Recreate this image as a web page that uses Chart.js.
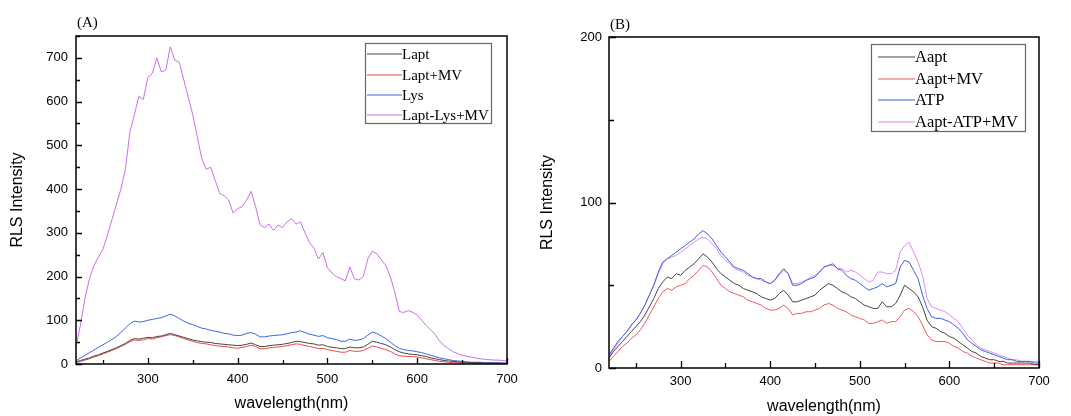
<!DOCTYPE html>
<html><head><meta charset="utf-8">
<script src="https://cdn.jsdelivr.net/npm/chart.js@4"></script>
<style>
html,body{margin:0;padding:0;background:#fff;}
#wrap{position:relative;width:1071px;height:416px;overflow:hidden;background:#fff;}
canvas{position:absolute;top:0;}
#cA{left:0;} #cB{left:535px;}
</style></head><body>
<div id="wrap"><canvas id="cA" width="535" height="416"></canvas><canvas id="cB" width="536" height="416"></canvas></div>
<script>
// ---- data ----
const wavelengths = [220,225,230,235,240,245,250,255,260,265,270,275,280,285,290,295,300,305,310,315,320,325,330,335,340,345,350,355,360,365,370,375,380,385,390,395,400,405,410,415,420,425,430,435,440,445,450,455,460,465,470,475,480,485,490,495,500,505,510,515,520,525,530,535,540,545,550,555,560,565,570,575,580,585,590,595,600,605,610,615,620,625,630,635,640,645,650,655,660,665,670,675,680,685,690,695,700];

// Panel A
const labelsA = ["Lapt","Lapt+MV","Lys","Lapt-Lys+MV"];
const laptA = [5,8,11,14,18,21,25,29,33,37,42,47,54,58,57,59,61,60,63,64,67,70,67,64,61,58,55,53,51,50,49,47,46,45,44,43,42,43,45,48,44,40,40,42,43,44,45,47,49,52,51,49,47,46,43,44,40,38,37,35,35,39,37,37,39,45,52,50,47,44,39,33,28,25,23,22,21,19,17,14,12,10,8,7,6,5,4,4,3,3,3,2,2,2,2,2,2];
const laptMVA = [3,6,9,12,16,19,23,27,31,35,40,45,51,55,54,55,58,57,60,62,65,67,65,62,58,55,52,49,47,46,44,42,41,40,39,37,36,38,40,43,40,35,35,37,38,39,40,42,44,46,45,42,40,38,35,36,33,31,29,27,27,31,29,29,31,36,41,39,36,33,29,23,19,18,17,17,16,14,12,10,8,6,5,4,3,3,2,2,2,1,1,1,1,1,1,1,1];
const lysA = [7,14,20,26,32,38,44,50,56,63,72,82,92,98,96,97,100,102,104,106,110,114,110,104,98,93,90,86,82,80,77,75,73,70,69,66,65,66,70,72,68,62,62,64,65,66,67,69,72,73,76,72,68,66,63,65,60,58,56,52,52,57,54,55,58,66,73,70,64,58,50,42,36,33,31,30,28,26,23,20,17,14,12,10,8,7,6,5,4,4,4,3,3,3,3,2,2];
const laptLysMVA = [40,90,150,195,225,245,262,295,330,365,400,445,530,570,612,605,655,665,700,668,672,725,695,690,650,610,570,520,470,445,450,420,390,385,375,345,355,360,375,395,360,318,312,320,305,318,312,325,332,320,325,300,278,265,240,255,220,208,200,195,190,222,195,192,200,240,258,252,238,225,200,165,120,118,122,118,112,100,88,78,68,52,42,35,28,24,20,18,16,14,12,11,10,9,9,8,7];

// Panel B
const labelsB = ["Aapt","Aapt+MV","ATP","Aapt-ATP+MV"];
const aaptB = [6,10,13,16,19,22,25,28,32,37,42,48,52,55,54,57,56,59,61,63,66,69,67,64,60,57,55,53,51,50,48,47,46,45,43,42,41,42,45,47,44,40,40,41,42,43,44,47,49,51,50,48,46,45,43,42,40,38,37,36,36,40,37,37,39,44,50,48,46,43,37,29,25,24,22,21,19,18,16,14,12,10,9,7,6,5,5,4,4,3,3,3,3,3,3,2,2];
const aaptMVB = [4,7,10,13,15,18,20,23,27,32,37,42,46,48,47,49,50,51,54,56,59,62,61,58,54,50,48,46,45,44,43,41,40,39,38,36,35,35,36,38,36,32,33,33,34,34,35,36,38,39,38,36,35,34,32,31,30,29,27,27,28,29,27,28,28,31,35,36,34,31,26,20,17,16,16,16,15,13,12,10,9,7,6,5,4,3,3,3,2,2,2,2,2,2,2,2,2];
const atpB = [8,12,16,19,22,26,29,33,38,44,50,58,64,66,68,70,72,74,76,78,81,83,81,78,74,70,67,64,61,60,59,57,55,54,54,52,51,53,57,60,57,50,50,51,53,54,55,58,61,62,63,60,59,56,54,53,51,49,47,48,49,51,49,50,51,61,65,64,59,54,44,36,31,30,30,29,28,26,24,21,17,15,13,11,10,9,8,7,6,5,5,4,4,4,4,3,3];
const aaptATPMVB = [7,11,15,19,22,26,29,33,38,44,50,57,63,66,67,68,70,72,74,76,78,79,78,75,72,68,65,63,60,59,58,56,55,54,53,52,51,53,56,59,57,51,51,52,53,55,56,58,61,62,62,60,60,58,59,58,56,54,52,53,58,58,57,57,59,70,74,76,70,64,56,42,37,36,35,34,32,30,28,24,20,17,14,12,11,10,9,8,7,6,5,5,4,4,4,4,4];

// ticks
const xTickValues = [300,400,500,600,700];
const xMinorValues = [250,350,450,550,650];
const yTickValuesA = [0,100,200,300,400,500,600,700];
const yMinorValuesA = [50,150,250,350,450,550,650,750];
const yTickValuesB = [0,100,200];
const yMinorValuesB = [50,150];

const colorsA = ["#444444","#e8474c","#3f63e6","#c96ee8"];
const colorsB = ["#444444","#ec5a60","#3f5fe0","#de8ae8"];

// ---- chart builder ----
const frameTicks = {
  id:'frameTicks',
  afterDraw(chart, args, o){
    const {ctx, chartArea:a, scales:{x, y}} = chart;
    ctx.save();
    ctx.strokeStyle = '#000';
    ctx.lineWidth = 1.5;
    ctx.strokeRect(a.left, a.top, a.right - a.left, a.bottom - a.top);
    ctx.lineWidth = 1.3;
    ctx.beginPath();
    o.xMajor.forEach(v => { const px = Math.round(x.getPixelForValue(v)) + 0.5; ctx.moveTo(px, a.bottom); ctx.lineTo(px, a.bottom - o.majLen); });
    o.xMinor.forEach(v => { const px = Math.round(x.getPixelForValue(v)) + 0.5; ctx.moveTo(px, a.bottom); ctx.lineTo(px, a.bottom - o.minLen); });
    o.yMajor.forEach(v => { const py = Math.round(y.getPixelForValue(v)) + 0.5; ctx.moveTo(a.left, py); ctx.lineTo(a.left + o.majLen, py); });
    o.yMinor.forEach(v => { const py = Math.round(y.getPixelForValue(v)) + 0.5; ctx.moveTo(a.left, py); ctx.lineTo(a.left + o.minLen, py); });
    ctx.stroke();
    // legend
    const L = o.legend;
    ctx.fillStyle = '#fff';
    ctx.fillRect(L.x, L.y, L.w, L.h);
    ctx.strokeStyle = '#666';
    ctx.lineWidth = 1.2;
    ctx.strokeRect(L.x + 0.5, L.y + 0.5, L.w, L.h);
    ctx.font = L.font;
    ctx.textBaseline = 'middle';
    ctx.textAlign = 'left';
    chart.data.datasets.forEach((ds, i) => {
      const ry = L.y + L.rows[i];
      ctx.strokeStyle = ds.borderColor;
      ctx.lineWidth = 1.2;
      ctx.beginPath(); ctx.moveTo(L.lx0, ry); ctx.lineTo(L.lx1, ry); ctx.stroke();
      ctx.fillStyle = '#000';
      ctx.fillText(ds.label, L.tx, ry + 1);
    });
    // panel label
    ctx.font = o.panel.font;
    ctx.fillStyle = '#000';
    ctx.fillText(o.panel.text, o.panel.x, o.panel.y);
    ctx.restore();
  }
};

function makeChart(id, labels, series, colors, c){
  const datasets = series.map((s, i) => ({
    label: labels[i],
    data: wavelengths.map((w, k) => ({x: w, y: s[k]})),
    borderColor: colors[i],
    borderWidth: 1,
    pointRadius: 0,
    tension: 0,
    fill: false
  }));
  return new Chart(document.getElementById(id), {
    type: 'line',
    data: {datasets},
    plugins: [frameTicks],
    options: {
      responsive: false, animation: false, devicePixelRatio: 1,
      layout: {padding: {top: c.top, right: c.right, left: 0, bottom: 0}},
      plugins: {legend: {display: false}, tooltip: {enabled: false}, frameTicks: c.deco},
      scales: {
        x: {
          type: 'linear', min: 220, max: 700,
          afterBuildTicks: s => { s.ticks = xTickValues.map(v => ({value: v})); },
          afterFit: s => { s.height = c.xH; },
          grid: {display: false, drawTicks: false}, border: {display: false},
          ticks: {font: {family: 'Liberation Sans', size: 13}, color: '#000', padding: c.xPad, maxRotation: 0, autoSkip: false},
          title: {display: true, text: 'wavelength(nm)', font: {family: 'Liberation Sans', size: 16}, color: '#000', padding: {top: 0, bottom: c.xTitlePad}}
        },
        y: {
          type: 'linear', min: 0, max: c.ymax,
          afterBuildTicks: s => { s.ticks = c.yTicks.map(v => ({value: v})); },
          afterFit: s => { s.width = c.yW; },
          grid: {display: false, drawTicks: false}, border: {display: false},
          ticks: {font: {family: 'Liberation Sans', size: 13}, color: '#000', padding: c.yPad, autoSkip: false},
          title: {display: true, text: 'RLS Intensity', font: {family: 'Liberation Sans', size: 16}, color: '#000', padding: {top: c.yTitlePad, bottom: 0}}
        }
      }
    }
  });
}

makeChart('cA', labelsA, [laptA, laptMVA, lysA, laptLysMVA], colorsA, {
  top: 36, right: 28, xH: 52, yW: 76, ymax: 750, yTicks: yTickValuesA,
  xPad: 8, yPad: 8, xTitlePad: 3, yTitlePad: 8,
  deco: {
    xMajor: xTickValues, xMinor: xMinorValues, yMajor: yTickValuesA, yMinor: yMinorValuesA, majLen: 6, minLen: 4,
    legend: {x: 365, y: 43, w: 126, h: 80, rows: [11, 32, 52, 72], lx0: 367, lx1: 402, tx: 402, font: '15px "Liberation Serif"'},
    panel: {text: '(A)', x: 77, y: 23, font: '15px "Liberation Serif"'}
  }
});

makeChart('cB', labelsB, [aaptB, aaptMVB, atpB, aaptATPMVB], colorsB, {
  top: 37, right: 32, xH: 48, yW: 74, ymax: 200, yTicks: yTickValuesB,
  xPad: 6, yPad: 7, xTitlePad: 0, yTitlePad: 3,
  deco: {
    xMajor: xTickValues, xMinor: xMinorValues, yMajor: yTickValuesB, yMinor: yMinorValuesB, majLen: 7, minLen: 5,
    legend: {x: 336, y: 44, w: 154, h: 87, rows: [13, 35, 56, 78], lx0: 343, lx1: 380, tx: 380, font: '16.5px "Liberation Serif"'},
    panel: {text: '(B)', x: 75, y: 25, font: '15px "Liberation Serif"'}
  }
});
</script>
</body></html>
